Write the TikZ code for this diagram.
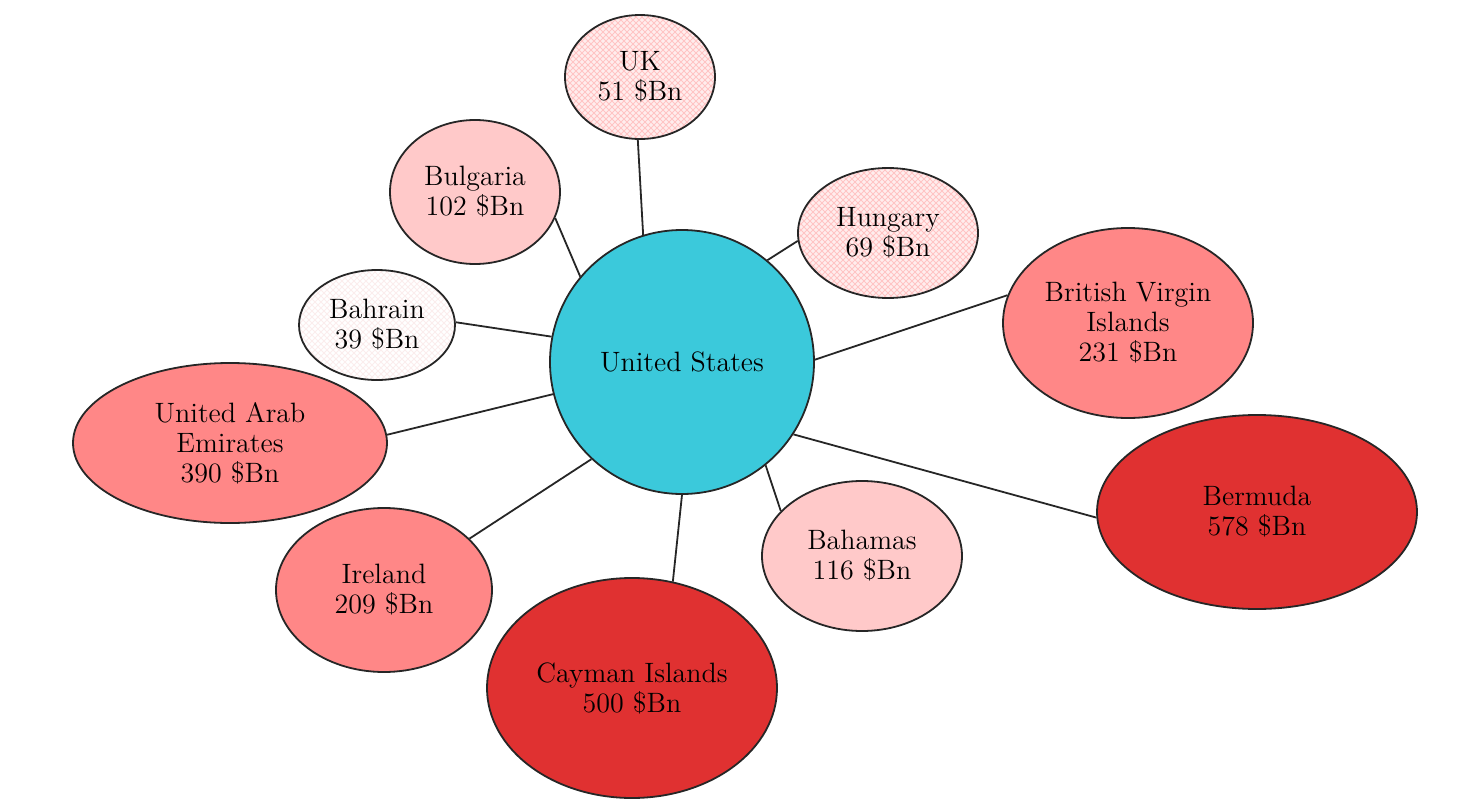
\documentclass[tikz,border=0pt]{standalone}
\usepackage{tikz}
\usetikzlibrary{shapes.geometric,patterns}

\definecolor{hubcyan}{HTML}{3BC9DB}
\definecolor{palered}{HTML}{FFC9C9}
\definecolor{midred}{HTML}{FF8787}
\definecolor{darkred}{HTML}{E03131}
\definecolor{hatchbg}{HTML}{FFEDED}
\definecolor{hatchline}{HTML}{FFC4C4}
\definecolor{faintline}{HTML}{FBEDED}

\begin{document}
\begin{tikzpicture}[
    x=0.5pt, y=-0.5pt,
    bubble/.style={ellipse, draw=black!85, line width=0.9pt, inner sep=0pt, align=center, font=\fontsize{14}{15}\selectfont},
    hub/.style={bubble, fill=hubcyan},
    hatched/.style={bubble, preaction={fill=hatchbg}, preaction={pattern=north east lines, pattern color=hatchline}, pattern=north west lines, pattern color=hatchline},
    faint/.style={bubble, preaction={fill=white}, preaction={pattern=north east lines, pattern color=faintline}, pattern=north west lines, pattern color=faintline},
    light/.style={bubble, fill=palered},
    medium/.style={bubble, fill=midred},
    heavy/.style={bubble, fill=darkred},
    link/.style={draw=black!85, line width=0.9pt}
]
\useasboundingbox (0,0) rectangle (1458,803);

% --- hub ---
\node[hub, minimum width=132pt, minimum height=132pt] (us) at (682,362) {United States};

% --- small flows ---
\node[hatched, minimum width=75pt, minimum height=62pt] (uk) at (640,77) {UK\\51 \$Bn};
\node[hatched, minimum width=90pt, minimum height=65pt] (hungary) at (888,233) {Hungary\\69 \$Bn};
\node[faint, minimum width=78pt, minimum height=55pt] (bahrain) at (377,325) {Bahrain\\39 \$Bn};
\node[light, minimum width=85pt, minimum height=72pt] (bulgaria) at (475,192) {Bulgaria\\102 \$Bn};
\node[light, minimum width=100pt, minimum height=75pt] (bahamas) at (862,556) {Bahamas\\116 \$Bn};

% --- medium flows ---
\node[medium, minimum width=125pt, minimum height=95pt] (bvi) at (1128,323) {British Virgin\\Islands\\231 \$Bn};
\node[medium, minimum width=157pt, minimum height=80pt] (uae) at (230,443) {United Arab\\Emirates\\390 \$Bn};
\node[medium, minimum width=108pt, minimum height=82pt] (ireland) at (384,590) {Ireland\\209 \$Bn};

% --- large flows ---
\node[heavy, minimum width=160pt, minimum height=97pt] (bermuda) at (1257,512) {Bermuda\\578 \$Bn};
\node[heavy, minimum width=145pt, minimum height=110pt] (cayman) at (632,688) {Cayman Islands\\500 \$Bn};

% --- links ---
\draw[link] (us.107) -- (uk.268);
\draw[link] (us.140) -- (bulgaria.342);
\draw[link] (us.50) -- (hungary.185);
\draw[link] (us.169) -- (bahrain.2);
\draw[link] (us.1) -- (bvi.167);
\draw[link] (us.194) -- (uae.3);
\draw[link] (us.227) -- (ireland.31);
\draw[link] (us.270) -- (cayman.69);
\draw[link] (us.309) -- (bahamas.151);
\draw[link] (us.327) -- (bermuda.182);

\end{tikzpicture}
\end{document}
